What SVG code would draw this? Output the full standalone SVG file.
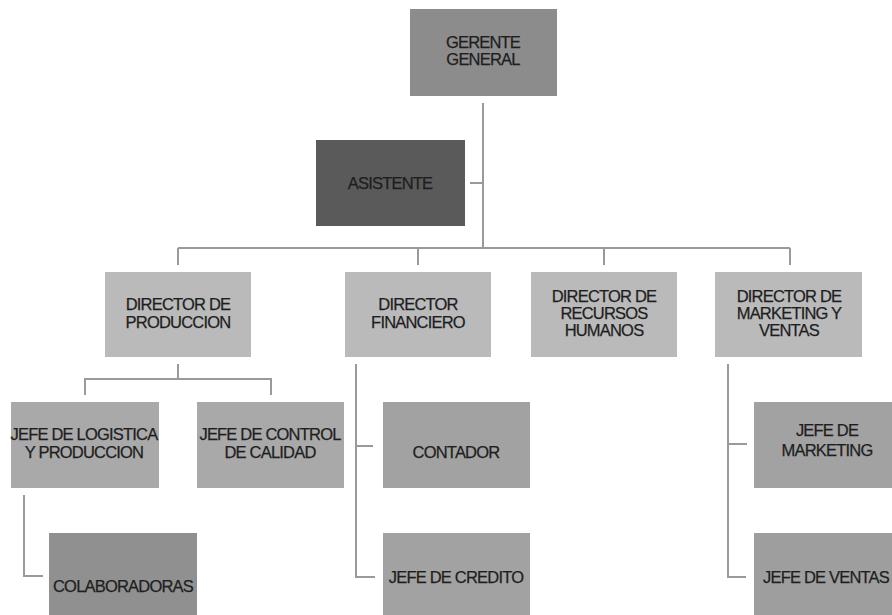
<svg xmlns="http://www.w3.org/2000/svg" width="892" height="615" viewBox="0 0 892 615">
<style>
text{font-family:"Liberation Sans",Arial,sans-serif;font-size:16.5px;fill:#1e1e1e;stroke:#1e1e1e;stroke-width:0.25px;text-anchor:middle;letter-spacing:-0.8px}
.c line,.c path{stroke:#9a9a9a;stroke-width:2;fill:none}
.l2{fill:#bababa}
.l3{fill:#a9a9a9}
</style>
<rect width="892" height="615" fill="#ffffff"/>
<g class="c" id="connectors">
<line x1="483" y1="103" x2="483" y2="248"/>
<line x1="470" y1="183" x2="483" y2="183"/>
<line x1="178" y1="248" x2="790" y2="248"/>
<line x1="178" y1="248" x2="178" y2="265"/>
<line x1="418" y1="248" x2="418" y2="265"/>
<line x1="604" y1="248" x2="604" y2="265"/>
<line x1="790" y1="248" x2="790" y2="265"/>
<line x1="178" y1="364" x2="178" y2="379"/>
<path d="M85 395 V379 H271 V395"/>
<path d="M356 364 V577 H375"/>
<line x1="356" y1="446" x2="373" y2="446"/>
<path d="M728 364 V577 H746"/>
<line x1="728" y1="444" x2="747" y2="444"/>
<path d="M24 495 V576 H43"/>
</g>
<g id="gerente"><rect x="410" y="9" width="147" height="87" fill="#8c8c8c"/><text x="483" y="48">GERENTE</text><text x="483" y="65">GENERAL</text></g>
<g id="asistente"><rect x="316" y="140" width="149" height="86" fill="#5a5a5a"/><text x="390" y="189">ASISTENTE</text></g>
<g id="dir-produccion"><rect class="l2" x="105" y="272" width="146" height="85"/><text x="178" y="310">DIRECTOR DE</text><text x="178" y="328">PRODUCCION</text></g>
<g id="dir-financiero"><rect class="l2" x="345" y="272" width="146" height="85"/><text x="418" y="310">DIRECTOR</text><text x="418" y="328">FINANCIERO</text></g>
<g id="dir-rrhh"><rect class="l2" x="531" y="272" width="146" height="85"/><text x="604" y="302">DIRECTOR DE</text><text x="604" y="319">RECURSOS</text><text x="604" y="336">HUMANOS</text></g>
<g id="dir-marketing"><rect class="l2" x="715" y="272" width="147" height="85"/><text x="789" y="302">DIRECTOR DE</text><text x="789" y="319">MARKETING Y</text><text x="789" y="336">VENTAS</text></g>
<g id="jefe-logistica"><rect class="l3" x="11" y="402" width="148" height="86"/><text x="84" y="440">JEFE DE LOGISTICA</text><text x="84" y="458">Y PRODUCCION</text></g>
<g id="jefe-calidad"><rect class="l3" x="197" y="402" width="147" height="86"/><text x="270" y="440">JEFE DE CONTROL</text><text x="270" y="458">DE CALIDAD</text></g>
<g id="contador"><rect x="383" y="402" width="147" height="86" fill="#a2a2a2"/><text x="456" y="458">CONTADOR</text></g>
<g id="jefe-marketing"><rect x="754" y="402" width="147" height="86" fill="#a2a2a2"/><text x="827" y="436">JEFE DE</text><text x="827" y="456">MARKETING</text></g>
<g id="colaboradoras"><rect x="49" y="533" width="148" height="90" fill="#909090"/><text x="123" y="592">COLABORADORAS</text></g>
<g id="jefe-credito"><rect x="383" y="533" width="147" height="90" fill="#a2a2a2"/><text x="456" y="583">JEFE DE CREDITO</text></g>
<g id="jefe-ventas"><rect x="754" y="533" width="147" height="90" fill="#9e9e9e"/><text x="826" y="583">JEFE DE VENTAS</text></g>
</svg>
